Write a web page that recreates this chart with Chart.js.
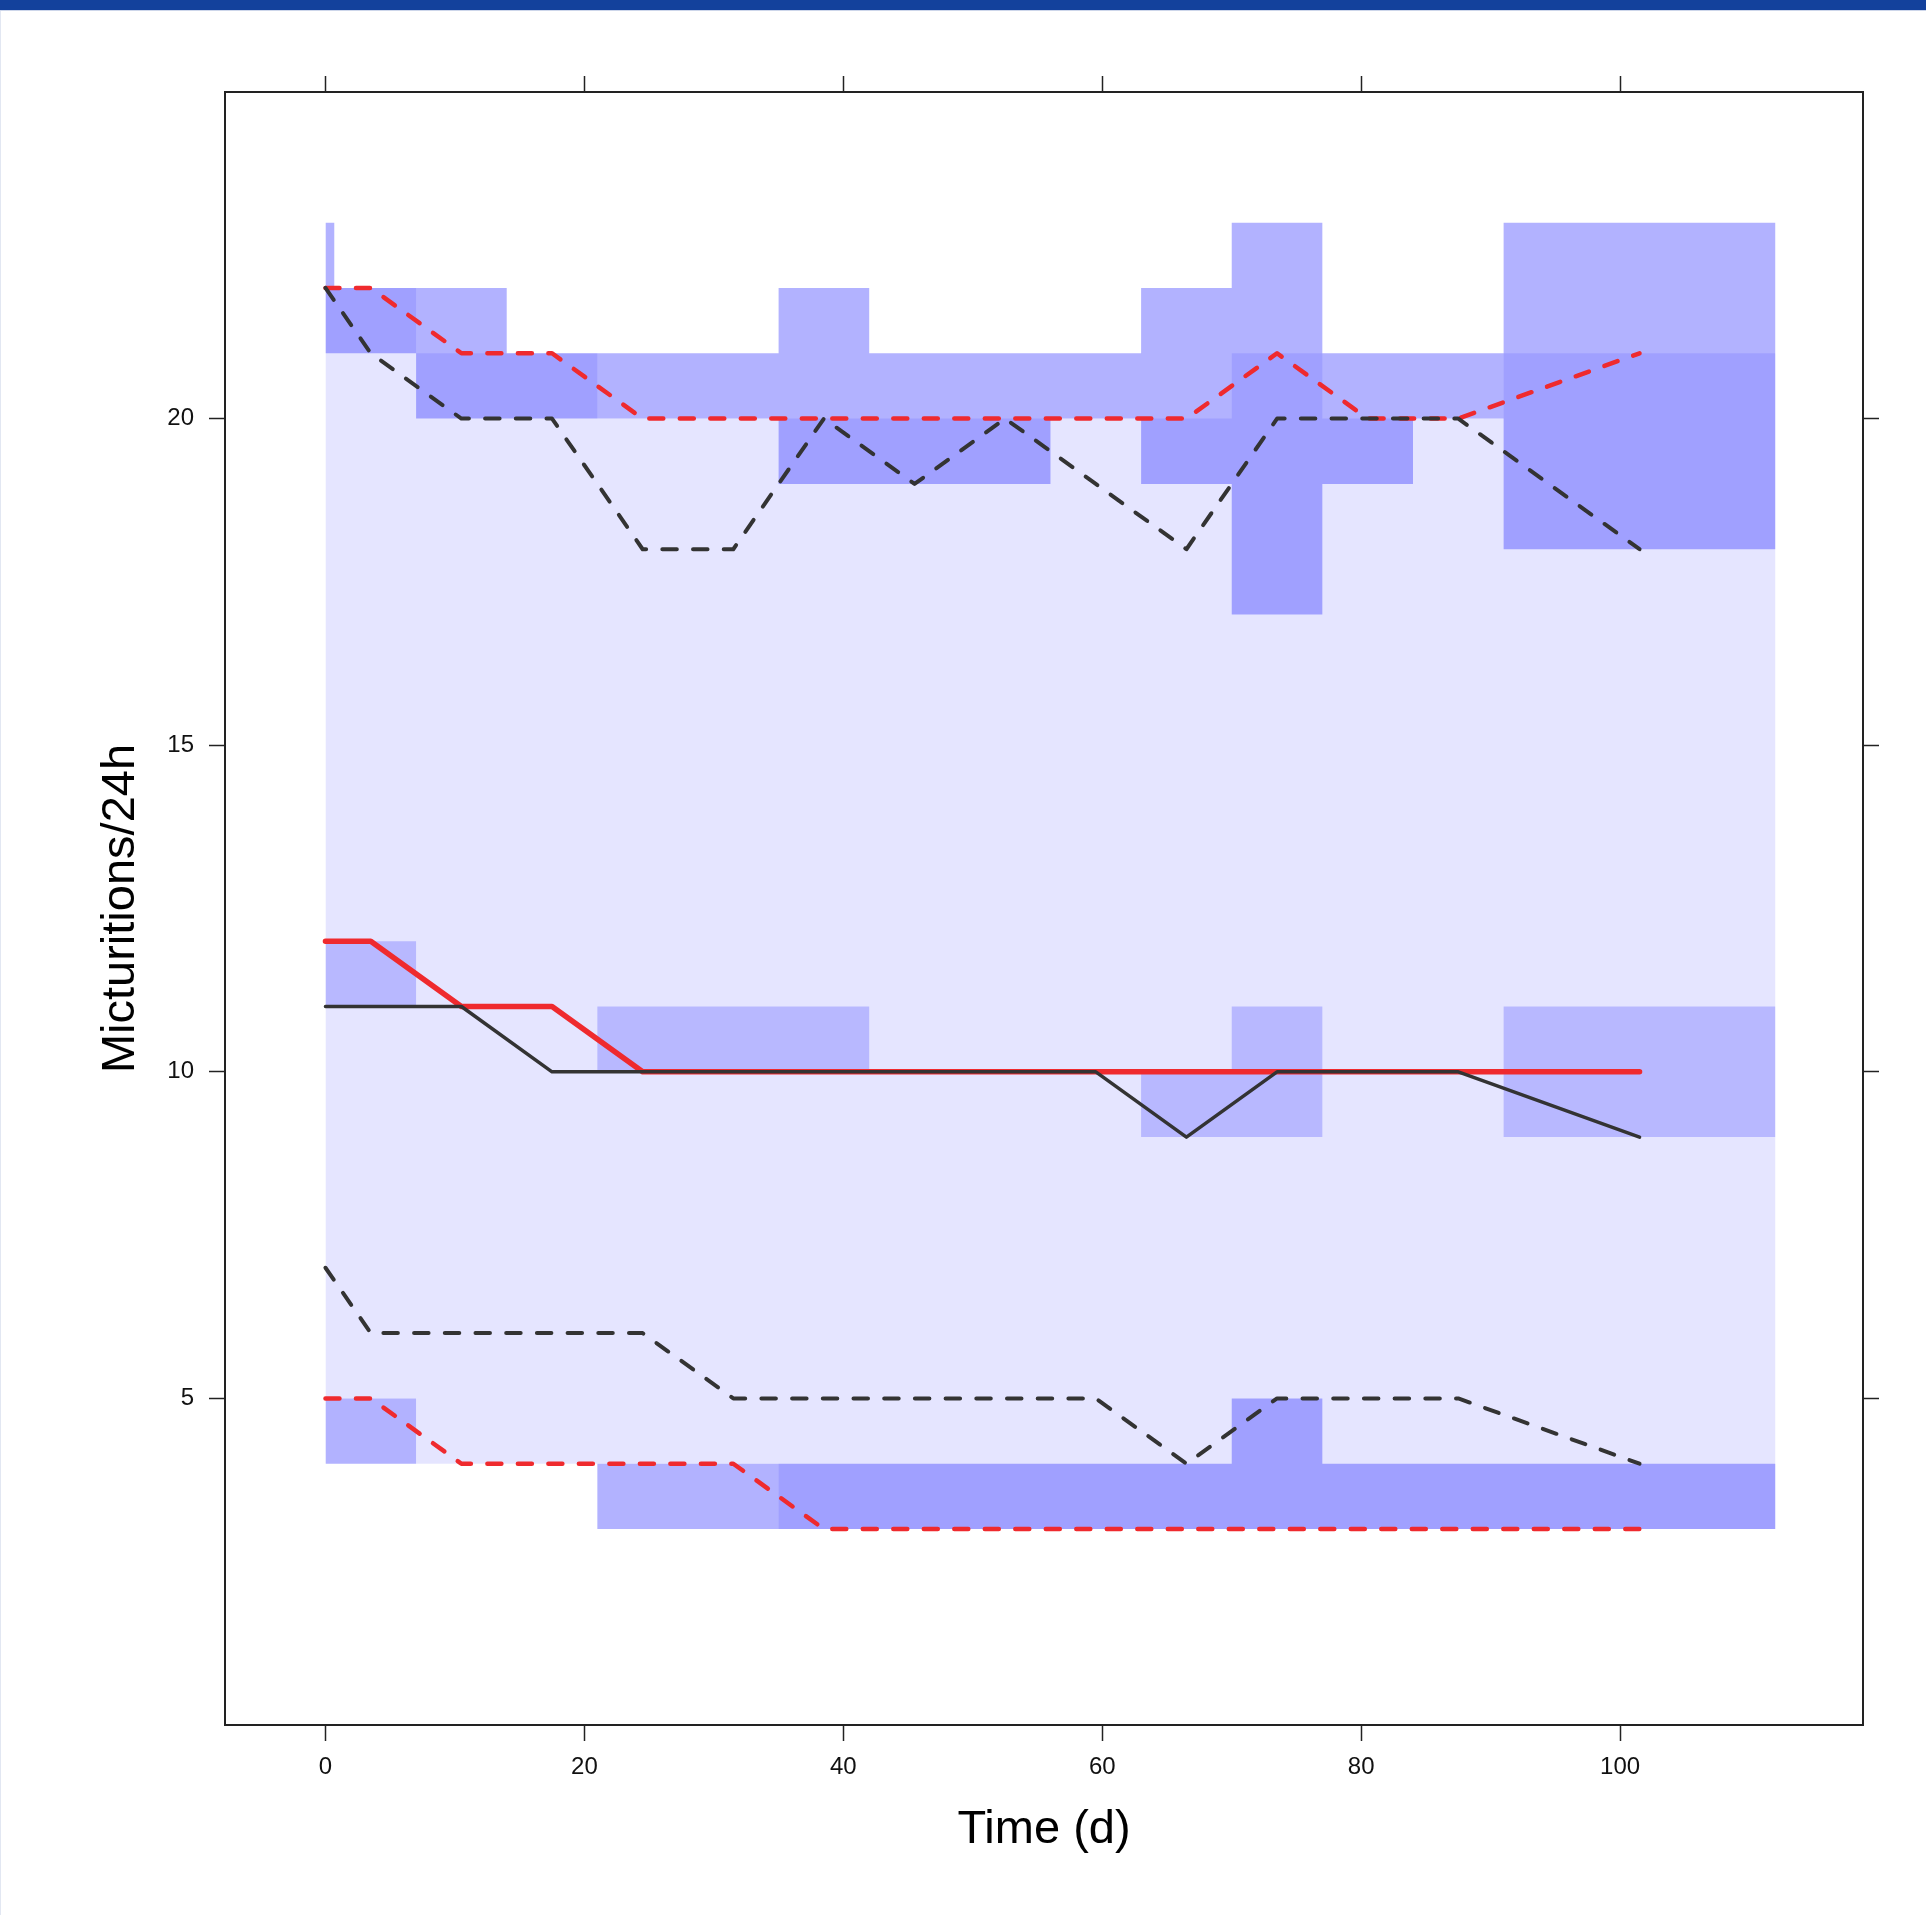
<!DOCTYPE html>
<html>
<head>
<meta charset="utf-8">
<script src="https://cdn.jsdelivr.net/npm/chart.js@4.4.1/dist/chart.umd.min.js"></script>
<style>
html, body { margin:0; padding:0; background:#fff; overflow:hidden; }
#bar { position:absolute; left:0; top:0; width:1926px; height:10px; background:#13419c; border-bottom:1px solid #cdd6ea; z-index:2; }
#edge { position:absolute; left:0; top:11px; width:1px; height:1904px; background:#e2e7f2; z-index:2; }
canvas { position:absolute; left:0; top:0; }
</style>
</head>
<body>
<div id="bar"></div><div id="edge"></div>
<canvas id="chart" width="1926" height="1915"></canvas>
<script>
// time points of the percentile lines (bin midpoints, 0 = baseline)
var timePoints = [0, 3.5, 10.5, 17.5, 24.5, 31.5, 38.5, 45.5, 52.5, 59.5, 66.5, 73.5, 80.5, 87.5, 101.5];
var obsMedian = [12, 12, 11, 11, 10, 10, 10, 10, 10, 10, 10, 10, 10, 10, 10];
var simMedian = [11, 11, 11, 10, 10, 10, 10, 10, 10, 10, 9, 10, 10, 10, 9];
var obsUpper  = [22, 22, 21, 21, 20, 20, 20, 20, 20, 20, 20, 21, 20, 20, 21];
var simUpper  = [22, 21, 20, 20, 18, 18, 20, 19, 20, 19, 18, 20, 20, 20, 18];
var obsLower  = [5, 5, 4, 4, 4, 4, 3, 3, 3, 3, 3, 3, 3, 3, 3];
var simLower  = [7, 6, 6, 6, 6, 5, 5, 5, 5, 5, 4, 5, 5, 5, 4];

// bins (weeks) and the shaded intervals for each bin
var binEdges = [0, 7, 14, 21, 28, 35, 42, 49, 56, 63, 70, 77, 84, 91, 112];
var piLow        = [5, 4, 4, 4, 4, 3, 3, 3, 3, 3, 3, 3, 3, 3];
var piHigh       = [22, 21, 21, 20, 20, 20, 20, 20, 20, 20, 21, 20, 20, 21];
var upperCiLow   = [21, 20, 20, 20, 20, 19, 19, 19, 20, 19, 17, 19, 20, 18];
var upperCiHigh  = [22, 22, 21, 21, 21, 22, 21, 21, 21, 22, 23, 21, 21, 23];
var medianCiLow  = [11, 11, 11, 10, 10, 10, 10, 10, 10, 9, 9, 10, 10, 9];
var medianCiHigh = [12, 11, 11, 11, 11, 11, 10, 10, 10, 10, 11, 10, 10, 11];
var lowerCiLow   = [4, 4, 4, 3, 3, 3, 3, 3, 3, 3, 3, 3, 3, 3];
var lowerCiHigh  = [5, 4, 4, 4, 4, 4, 4, 4, 4, 4, 5, 4, 4, 4];
var baselineEdges  = [0, 0.7];
var baselineCiLow  = [22];
var baselineCiHigh = [23];

var xTicks = [0, 20, 40, 60, 80, 100];
var yTicks = [5, 10, 15, 20];

var fam = "'Liberation Sans', Arial, Helvetica, sans-serif";
var red = '#ef2a2e';
var dark = '#333333';

function steps(edges, vals)
{
    var pts = [];
    for (var i = 0; i < vals.length; i++) pts.push({x: edges[i], y: vals[i]});
    pts.push({x: edges[vals.length], y: vals[vals.length - 1]});
    return pts;
}

function points(vals)
{
    var pts = [];
    for (var i = 0; i < vals.length; i++) pts.push({x: timePoints[i], y: vals[i]});
    return pts;
}

var datasets = [];

function band(edges, lo, hi, col)
{
    datasets.push({data: steps(edges, lo), stepped: true, borderWidth: 0, pointRadius: 0, fill: false, order: 3});
    datasets.push({data: steps(edges, hi), stepped: true, borderWidth: 0, pointRadius: 0, fill: '-1', backgroundColor: col, order: 3});
}

function line(vals, col, w, dash, ord)
{
    datasets.push({data: points(vals), borderColor: col, borderWidth: w, borderDash: dash,
        borderCapStyle: 'round', borderJoinStyle: 'round', pointRadius: 0, fill: false, tension: 0, order: ord});
}

band(binEdges, piLow, piHigh, 'rgba(0,0,255,0.1)');
band(binEdges, upperCiLow, upperCiHigh, 'rgba(0,0,255,0.3)');
band(baselineEdges, baselineCiLow, baselineCiHigh, 'rgba(0,0,255,0.3)');
band(binEdges, medianCiLow, medianCiHigh, 'rgba(0,0,255,0.2)');
band(binEdges, lowerCiLow, lowerCiHigh, 'rgba(0,0,255,0.3)');

line(obsUpper, red, 4.5, [14, 16.5], 1);
line(obsLower, red, 4.5, [14, 16.5], 1);
line(obsMedian, red, 5.5, [], 1);
line(simUpper, dark, 4, [14.5, 16.2], 0);
line(simLower, dark, 4, [14.5, 16.2], 0);
line(simMedian, dark, 3.5, [], 0);

function setTicks(list) {
    return function (s) { s.ticks = list.map(function (v) { return {value: v}; }); };
}

var gridOpt = {drawOnChartArea: false, drawTicks: true, tickLength: 16, tickWidth: 1.5, tickColor: '#222'};
var borderOpt = {display: true, color: '#222', width: 2};

var chart = new Chart(document.getElementById('chart'), {
    type: 'line',
    data: {datasets: datasets},
    options: {
        responsive: false,
        animation: false,
        devicePixelRatio: 1,
        events: [],
        layout: {padding: 0},
        plugins: {legend: {display: false}, tooltip: {enabled: false}},
        scales: {
            x: {
                type: 'linear', position: 'bottom', min: -7.76, max: 118.76,
                afterBuildTicks: setTicks(xTicks),
                afterFit: function (s) { s.height = 190; },
                grid: gridOpt, border: borderOpt,
                ticks: {color: '#111', font: {family: fam, size: 24}, padding: 12, maxRotation: 0, autoSkip: false},
                title: {display: true, text: 'Time (d)', color: '#000', font: {family: fam, size: 47}, padding: {top: 0, bottom: 57}}
            },
            x2: {
                type: 'linear', position: 'top', min: -7.76, max: 118.76,
                afterBuildTicks: setTicks(xTicks),
                afterFit: function (s) { s.height = 92; },
                grid: gridOpt, border: borderOpt,
                ticks: {display: false}
            },
            y: {
                type: 'linear', position: 'left', min: 0, max: 25,
                afterBuildTicks: setTicks(yTicks),
                afterFit: function (s) { s.width = 225; },
                grid: gridOpt, border: borderOpt,
                ticks: {color: '#111', font: {family: fam, size: 24}, padding: 15, autoSkip: false},
                title: {display: true, text: 'Micturitions/24h', color: '#000', font: {family: fam, size: 47}, padding: {top: 93, bottom: 0}}
            },
            y2: {
                type: 'linear', position: 'right', min: 0, max: 25,
                afterBuildTicks: setTicks(yTicks),
                afterFit: function (s) { s.width = 63; },
                grid: gridOpt, border: borderOpt,
                ticks: {display: false}
            }
        }
    }
});
</script>
</body>
</html>
